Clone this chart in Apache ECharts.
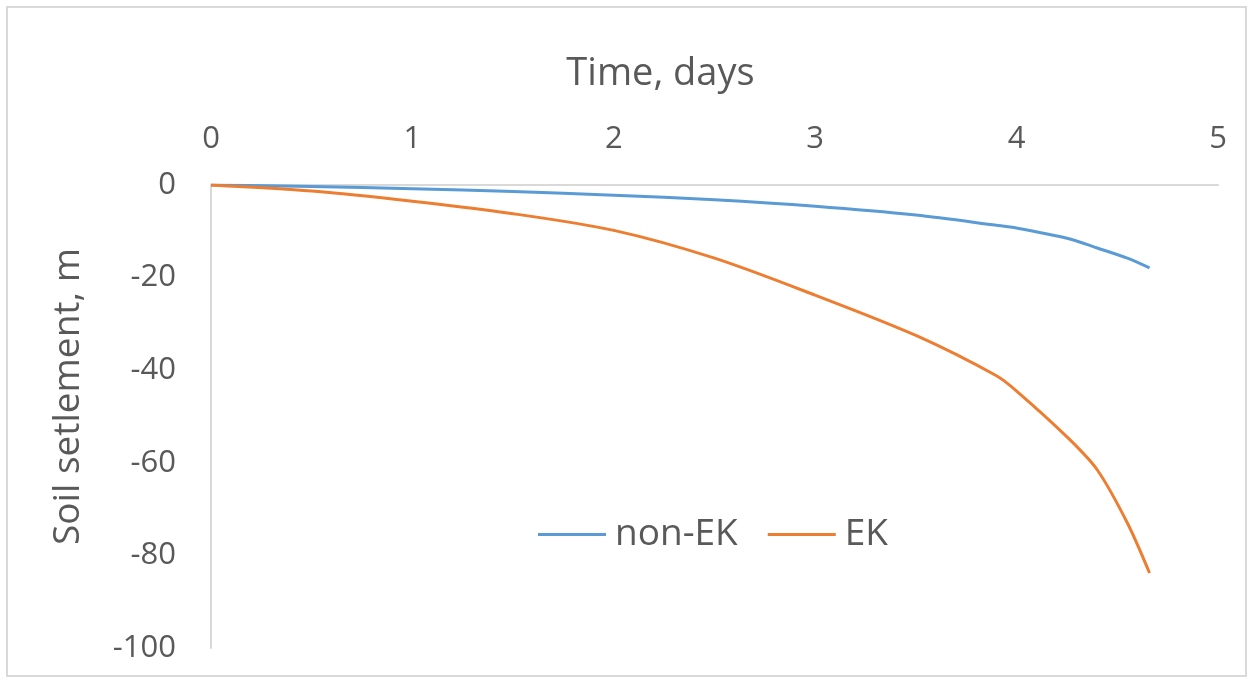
<!DOCTYPE html>
<html>
<head>
<meta charset="utf-8">
<script src="https://cdn.jsdelivr.net/npm/echarts@6/dist/echarts.min.js"></script>
<style>
  html, body { margin: 0; padding: 0; background: #fff; }
  #chart { width: 1250px; height: 681px; }
</style>
</head>
<body>
<div id="chart"></div>
<script>
// time, days
var days = [0, 0.5, 1, 1.5, 2, 2.5, 3, 3.5, 3.9, 4.0, 4.25, 4.4, 4.55, 4.66];
// settlement, m
var nonEK = [0, -0.3, -0.8, -1.4, -2.2, -3.2, -4.6, -6.5, -8.7, -9.3, -11.5, -13.6, -15.8, -17.9];
var EK = [0, -1.3, -3.5, -6.2, -9.8, -15.8, -23.8, -32.5, -41.2, -44.5, -54.4, -61.5, -73, -83.8];
var seriesNames = ["non-EK", "EK"];

function pairs(xs, ys) {
  return xs.map(function (x, i) { return [x, ys[i]]; });
}

var chart = echarts.init(document.getElementById("chart"));
var font = "'Open Sans', sans-serif";
var txt = "#595959";

var option = {
  animation: false,
  backgroundColor: "#fff",
  graphic: [{
    type: "rect",
    shape: { x: 7, y: 7, width: 1239, height: 669 },
    style: { fill: "none", stroke: "#d9d9d9", lineWidth: 2 }
  }],
  grid: { left: 211, top: 185, right: 32, bottom: 33 },
  xAxis: {
    type: "value",
    position: "top",
    min: 0,
    max: 5,
    interval: 1,
    name: "Time, days",
    nameLocation: "middle",
    nameGap: 92,
    nameTextStyle: { fontSize: 38, color: txt, fontFamily: font, padding: [0, 108, 0, 0] },
    axisLine: { show: true, lineStyle: { color: "#d9d9d9", width: 2 } },
    axisTick: { show: false },
    splitLine: { show: false },
    axisLabel: { fontSize: 31, color: txt, fontFamily: font, margin: 30 }
  },
  yAxis: {
    type: "value",
    min: -100,
    max: 0,
    interval: 20,
    name: "Soil setlement, m",
    nameLocation: "middle",
    nameGap: 124,
    nameTextStyle: { fontSize: 37, color: txt, fontFamily: font, padding: [0, 0, 0, 40] },
    axisLine: { show: true, onZero: false, lineStyle: { color: "#d9d9d9", width: 2 } },
    axisTick: { show: false },
    splitLine: { show: false },
    axisLabel: { fontSize: 31, color: txt, fontFamily: font, margin: 35 }
  },
  legend: {
    data: seriesNames,
    left: 533,
    top: 511,
    icon: "rect",
    itemWidth: 68,
    itemHeight: 3,
    itemGap: 30,
    textStyle: { fontSize: 37, color: txt, fontFamily: font, padding: [0, 0, 0, 4] }
  },
  series: [
    {
      name: seriesNames[0],
      type: "line",
      data: pairs(days, nonEK),
      smooth: 0.3,
      showSymbol: false,
      symbol: "none",
      lineStyle: { color: "#5b9bd5", width: 3 },
      itemStyle: { color: "#5b9bd5" }
    },
    {
      name: seriesNames[1],
      type: "line",
      data: pairs(days, EK),
      smooth: 0.3,
      showSymbol: false,
      symbol: "none",
      lineStyle: { color: "#ed7d31", width: 3 },
      itemStyle: { color: "#ed7d31" }
    }
  ]
};

chart.setOption(option);
</script>
</body>
</html>
